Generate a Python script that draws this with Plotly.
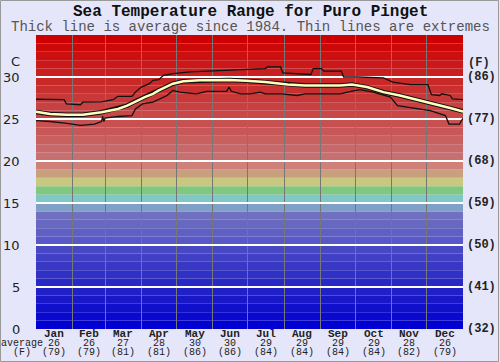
import plotly.graph_objects as go

# ---------------- data ----------------
max_days = [0, 12, 24, 26, 38, 40, 56, 66, 70, 82, 85, 90, 97, 100, 105, 109, 117, 132, 146, 166, 180, 183, 196, 198, 209, 211, 235, 237, 244, 246, 261, 263, 275, 297, 305, 320, 335, 338, 345, 347, 354, 356, 365]
max_vals = [27.35, 27.3, 27.3, 26.8, 26.7, 27.0, 27.05, 27.3, 27.7, 27.7, 28.2, 28.8, 29.2, 29.6, 29.7, 30.2, 30.4, 30.6, 30.7, 30.8, 30.9, 30.9, 31.0, 31.2, 31.2, 30.5, 30.3, 31.0, 31.0, 30.7, 30.7, 30.0, 30.0, 29.9, 29.4, 29.1, 29.1, 27.9, 27.8, 28.0, 27.8, 27.4, 27.3]

avg_days = [0, 12, 26, 40, 56, 62, 70, 78, 85, 93, 100, 105, 117, 126, 140, 165, 180, 196, 215, 230, 260, 270, 283, 297, 311, 326, 340, 354, 365]
avg_vals = [25.85, 25.6, 25.5, 25.5, 25.8, 26.0, 26.2, 26.6, 27.1, 27.6, 28.0, 28.4, 29.2, 29.5, 29.6, 29.65, 29.55, 29.4, 29.1, 29.0, 29.0, 29.1, 28.8, 28.2, 27.8, 27.3, 26.8, 26.3, 25.9]

min_days = [0, 12, 25, 38, 50, 56, 57, 58, 59, 70, 82, 85, 91, 100, 112, 117, 123, 137, 146, 163, 165, 167, 175, 183, 192, 196, 210, 223, 230, 260, 269, 277, 288, 303, 309, 328, 337, 350, 353, 362, 365]
min_vals = [24.8, 24.7, 24.5, 24.25, 24.4, 24.7, 25.3, 24.7, 25.1, 25.3, 25.4, 26.2, 26.8, 27.0, 27.8, 28.4, 28.2, 28.0, 28.3, 28.3, 28.8, 28.3, 28.0, 28.0, 28.2, 28.0, 28.0, 27.8, 28.0, 28.0, 28.3, 28.5, 28.2, 27.6, 26.6, 26.2, 26.0, 25.4, 24.4, 24.4, 25.1]

months = ["Jan", "Feb", "Mar", "Apr", "May", "Jun", "Jul", "Aug", "Sep", "Oct", "Nov", "Dec"]
month_avg_c = ["26", "26", "27", "28", "30", "30", "29", "29", "29", "29", "28", "26"]
month_avg_f = ["(79)", "(79)", "(81)", "(81)", "(86)", "(86)", "(84)", "(84)", "(84)", "(84)", "(82)", "(79)"]
month_len = [31, 28, 31, 30, 31, 30, 31, 31, 30, 31, 30, 31]

c_ticks = [0, 5, 10, 15, 20, 25, 30]
f_labels = ["(32)", "(41)", "(50)", "(59)", "(68)", "(77)", "(86)"]

title = "Sea Temperature Range for Puro Pinget"
subtitle = "Thick line is average since 1984. Thin lines are extremes"

# ---------------- style ----------------
band_colors = [
    "#0000d2", "#0808cf", "#1010cc", "#1818c8", "#2020c6",   # 0-5
    "#2828c4", "#3030c4", "#3838c4", "#4040c4", "#4848c4",   # 5-10
    "#5858c8", "#6060c4", "#6868c0", "#7070c0", "#80a0c8",   # 10-15
    "#80c8c8", "#80c880", "#c8c880", "#c8a080", "#d08078",   # 15-20
    "#c87070", "#c86868", "#c86060", "#c85858", "#c85050",   # 20-25
    "#c84848", "#c84040", "#c83838", "#c83030", "#c82828",   # 25-30
    "#c82020", "#cc1818", "#cc1010", "#cc0808", "#cc0000",   # 30-35
]
FIG_W, FIG_H = 500, 362
L, R, T, B = 36, 37, 35, 33
BG = "#e6e6fa"
MONO = "Liberation Mono, Courier New, monospace"
SANS = "DejaVu Sans, Verdana, sans-serif"
INK = "#222222"

pw = FIG_W - L - R
ph = FIG_H - T - B


def xpix(p):
    return (p - L) / pw


def ypix(p):
    return 1 + (T - p) / ph


fig = go.Figure()

# black outline for average line, then the pale average line
fig.add_trace(go.Scatter(x=avg_days, y=avg_vals, mode="lines",
                         line=dict(color="#111111", width=4.5), hoverinfo="skip", showlegend=False))
fig.add_trace(go.Scatter(x=avg_days, y=avg_vals, mode="lines",
                         line=dict(color="#ffffc0", width=2.5), hoverinfo="skip", showlegend=False))
fig.add_trace(go.Scatter(x=max_days, y=max_vals, mode="lines",
                         line=dict(color="#111111", width=1.3), hoverinfo="skip", showlegend=False))
fig.add_trace(go.Scatter(x=min_days, y=min_vals, mode="lines",
                         line=dict(color="#111111", width=1.3), hoverinfo="skip", showlegend=False))

shapes = []
for i, col in enumerate(band_colors):
    shapes.append(dict(type="rect", xref="paper", yref="y", x0=0, x1=1, y0=i, y1=i + 1,
                       fillcolor=col, line=dict(width=0), layer="below"))

bounds = [0]
for ml in month_len:
    bounds.append(bounds[-1] + ml)
mids = [(bounds[i] + bounds[i + 1]) / 2 for i in range(12)]

# outer frame
shapes.append(dict(type="rect", xref="paper", yref="paper",
                   x0=xpix(0.5), x1=xpix(FIG_W - 1.5), y0=ypix(FIG_H - 0.5), y1=ypix(0.5),
                   line=dict(color="#999999", width=1), fillcolor="rgba(0,0,0,0)", layer="above"))

annotations = []
annotations.append(dict(text="<b>" + title + "</b>", x=xpix(FIG_W / 2), xref="paper", y=ypix(12), yref="paper",
                        showarrow=False, xanchor="center", yanchor="middle",
                        font=dict(family=MONO, size=16, color="#111111")))
annotations.append(dict(text=subtitle, x=xpix(FIG_W / 2), xref="paper", y=ypix(27), yref="paper",
                        showarrow=False, xanchor="center", yanchor="middle",
                        font=dict(family=MONO, size=14, color="#555555")))

for c, f in zip(c_ticks, f_labels):
    annotations.append(dict(text=str(c), x=xpix(22), xref="paper", y=c, yref="y",
                            showarrow=False, xanchor="right", yanchor="middle",
                            font=dict(family=SANS, size=13, color=INK)))
    annotations.append(dict(text="<b>" + f + "</b>", x=xpix(465), xref="paper", y=c, yref="y",
                            showarrow=False, xanchor="left", yanchor="middle",
                            font=dict(family=MONO, size=12, color=INK)))
annotations.append(dict(text="C", x=xpix(22), xref="paper", y=ypix(61), yref="paper",
                        showarrow=False, xanchor="right", yanchor="middle",
                        font=dict(family=SANS, size=13, color=INK)))
annotations.append(dict(text="<b>(F)</b>", x=xpix(479), xref="paper", y=ypix(63), yref="paper",
                        showarrow=False, xanchor="center", yanchor="middle",
                        font=dict(family=MONO, size=12, color=INK)))

for m, cval, fval, xm in zip(months, month_avg_c, month_avg_f, mids):
    annotations.append(dict(text="<b>" + m + "</b>", x=xm, xref="x", y=ypix(334), yref="paper",
                            showarrow=False, xanchor="center", yanchor="middle", borderpad=0,
                            font=dict(family=MONO, size=11, color=INK)))
    annotations.append(dict(text=cval, x=xm, xref="x", y=ypix(343.5), yref="paper",
                            showarrow=False, xanchor="center", yanchor="middle", borderpad=0,
                            font=dict(family=MONO, size=10, color=INK)))
    annotations.append(dict(text=fval, x=xm, xref="x", y=ypix(352.5), yref="paper",
                            showarrow=False, xanchor="center", yanchor="middle", borderpad=0,
                            font=dict(family=MONO, size=10, color=INK)))
annotations.append(dict(text="average", x=xpix(22), xref="paper", y=ypix(343.5), yref="paper",
                        showarrow=False, xanchor="center", yanchor="middle", borderpad=0,
                        font=dict(family=MONO, size=10, color=INK)))
annotations.append(dict(text="(F)", x=xpix(22), xref="paper", y=ypix(352.5), yref="paper",
                        showarrow=False, xanchor="center", yanchor="middle", borderpad=0,
                        font=dict(family=MONO, size=10, color=INK)))

fig.update_layout(
    width=FIG_W, height=FIG_H,
    margin=dict(l=L, r=R, t=T, b=B, pad=0),
    paper_bgcolor=BG, plot_bgcolor=BG,
    shapes=shapes, annotations=annotations,
    showlegend=False,
    xaxis=dict(range=[0, 365], tickvals=bounds, showticklabels=False, showgrid=True,
               gridcolor="#777777", gridwidth=1, zeroline=False, ticks="", showline=False,
               fixedrange=True),
    yaxis=dict(range=[0, 35], tickvals=c_ticks[1:], showticklabels=False, showgrid=True,
               gridcolor="#ffffff", gridwidth=2, zeroline=False, ticks="", showline=False,
               fixedrange=True),
)

fig.write_html("out.html", config={"displayModeBar": False},
               post_script="document.body.style.margin='0';document.body.style.padding='0';")
